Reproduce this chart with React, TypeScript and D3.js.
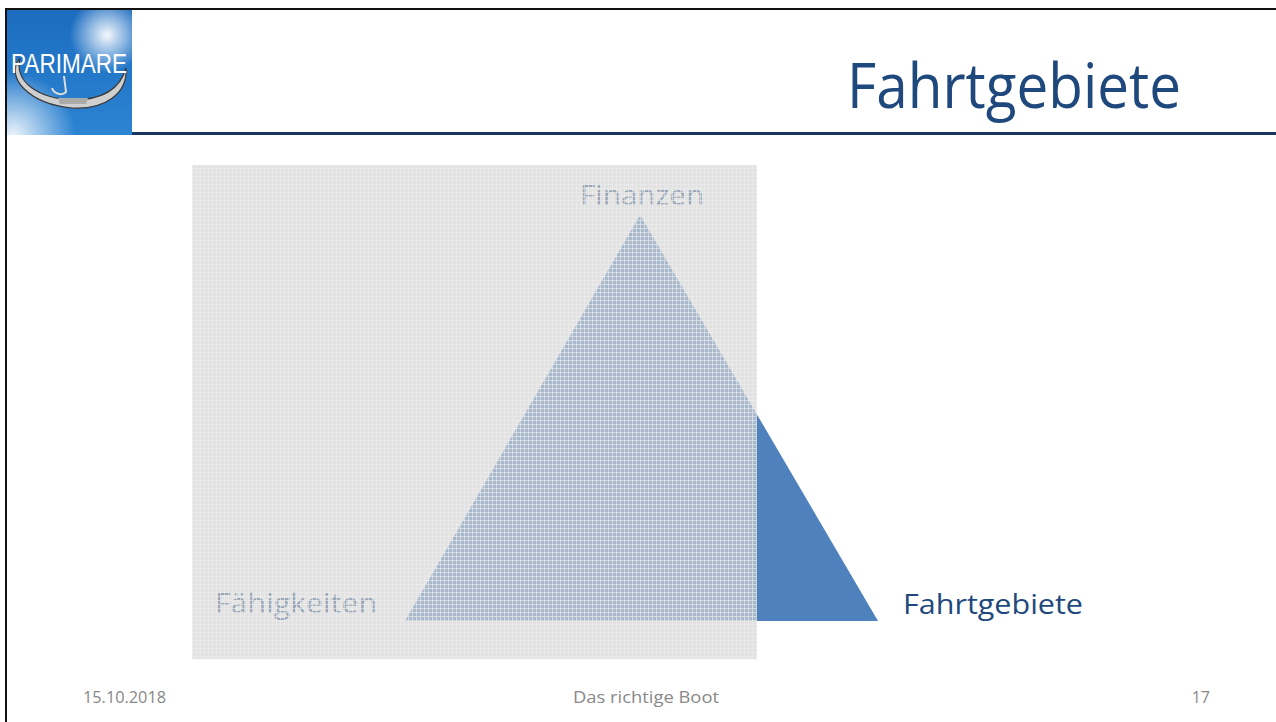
import React, { useEffect, useRef } from 'react';
import * as d3 from 'd3';

// slide texts
const slideTitle = 'Fahrtgebiete';
const footerDate = '15.10.2018';
const footerTitle = 'Das richtige Boot';
const pageNumber = '17';

// triangle corners in unit space (label, x, y)
const cornerLabels = ['Finanzen', 'Fähigkeiten', 'Fahrtgebiete'];
const cornerX = [0.497, 0, 1];
const cornerY = [1, 0, 0];

// the grey veil over the left part of the triangle
const veilX = [-0.45, 0.744];
const veilY = [-0.094, 1.123];

const W = 1276;
const H = 722;

function App() {
  const ref = useRef<SVGSVGElement>(null);

  useEffect(() => {
    document.body.style.margin = '0';
    const svg = d3.select(ref.current);
    svg.selectAll('*').remove();

    const x = d3.scaleLinear().domain([0, 1]).range([405, 878]);
    const y = d3.scaleLinear().domain([0, 1]).range([621, 215]);

    const defs = svg.append('defs');

    // logo gradients
    const lg = defs.append('linearGradient').attr('id', 'logoBg')
      .attr('x1', '0%').attr('y1', '0%').attr('x2', '0%').attr('y2', '100%');
    lg.append('stop').attr('offset', '0%').attr('stop-color', '#1c6cc0');
    lg.append('stop').attr('offset', '100%').attr('stop-color', '#2c84d2');
    const glow = defs.append('radialGradient').attr('id', 'logoGlow')
      .attr('cx', '0.8').attr('cy', '0.2').attr('r', '0.3');
    glow.append('stop').attr('offset', '0%').attr('stop-color', '#ffffff').attr('stop-opacity', 0.95);
    glow.append('stop').attr('offset', '100%').attr('stop-color', '#ffffff').attr('stop-opacity', 0);
    const glow2 = defs.append('radialGradient').attr('id', 'logoGlow2')
      .attr('cx', '0.05').attr('cy', '1').attr('r', '0.5');
    glow2.append('stop').attr('offset', '0%').attr('stop-color', '#ffffff').attr('stop-opacity', 0.9);
    glow2.append('stop').attr('offset', '100%').attr('stop-color', '#ffffff').attr('stop-opacity', 0);

    // grid pattern for the veil
    const pat = defs.append('pattern').attr('id', 'veil')
      .attr('patternUnits', 'userSpaceOnUse').attr('width', 4).attr('height', 4);
    pat.append('rect').attr('width', 4).attr('height', 4).attr('fill', 'rgb(212,212,212)').attr('fill-opacity', 0.68);
    pat.append('rect').attr('width', 4).attr('height', 1).attr('fill', 'rgb(236,236,236)').attr('fill-opacity', 0.6);
    pat.append('rect').attr('width', 1).attr('height', 4).attr('fill', 'rgb(236,236,236)').attr('fill-opacity', 0.6);

    svg.append('rect').attr('width', W).attr('height', H).attr('fill', '#ffffff');

    // slide frame
    svg.append('path').attr('d', `M6,${H} L6,9 L${W},9`)
      .attr('fill', 'none').attr('stroke', '#111').attr('stroke-width', 2);

    // logo
    const logo = svg.append('g');
    logo.append('rect').attr('x', 7).attr('y', 10).attr('width', 125).attr('height', 125).attr('fill', 'url(#logoBg)');
    logo.append('rect').attr('x', 7).attr('y', 10).attr('width', 125).attr('height', 125).attr('fill', 'url(#logoGlow)');
    logo.append('rect').attr('x', 7).attr('y', 10).attr('width', 125).attr('height', 125).attr('fill', 'url(#logoGlow2)');
    logo.append('path')
      .attr('d', 'M20,58 C4,78 30,104 72,108 C104,110 128,94 126,68 C120,90 100,100 72,100 C38,98 14,82 20,58 Z')
      .attr('fill', '#cfcfcf').attr('stroke', '#3a3a3a').attr('stroke-width', 1.2);
    logo.append('path').attr('d', 'M64,76 L66,92 C62,96 54,94 52,88').attr('fill', 'none').attr('stroke', '#ddd').attr('stroke-width', 2);
    logo.append('path').attr('d', 'M58,98 L88,98 L86,104 L60,104 Z').attr('fill', '#aaaaaa');
    logo.append('text').attr('x', 69).attr('y', 73).attr('text-anchor', 'middle')
      .attr('font-family', 'Liberation Sans Narrow, Liberation Sans, sans-serif').attr('font-size', 28)
      .attr('fill', '#ffffff').attr('textLength', 116).attr('lengthAdjust', 'spacingAndGlyphs')
      .text('PARIMARE');

    // title + rule
    svg.append('rect').attr('x', 132).attr('y', 132).attr('width', W - 132).attr('height', 3).attr('fill', '#17375e');
    svg.append('text').attr('x', 1181).attr('y', 108).attr('text-anchor', 'end')
      .attr('font-family', 'Open Sans, sans-serif').attr('font-size', 62)
      .attr('fill', '#1f497d').attr('textLength', 334).attr('lengthAdjust', 'spacingAndGlyphs')
      .text(slideTitle);

    // triangle
    const pts: [number, number][] = cornerX.map((cx, i) => [x(cx), y(cornerY[i])]);
    svg.append('path')
      .attr('d', d3.line()([pts[1], pts[0], pts[2]]) + 'Z')
      .attr('fill', '#4f81bd');

    // corner labels
    const labelPos = [
      { x: pts[0][0] + 2, y: pts[0][1] - 10, anchor: 'middle', len: 124 },
      { x: pts[1][0] - 28, y: pts[1][1] - 8, anchor: 'end', len: 162 },
      { x: pts[2][0] + 25, y: pts[2][1] - 7, anchor: 'start', len: 180 },
    ];
    cornerLabels.forEach((lab, i) => {
      svg.append('text')
        .attr('x', labelPos[i].x).attr('y', labelPos[i].y)
        .attr('text-anchor', labelPos[i].anchor)
        .attr('font-family', 'Open Sans, sans-serif').attr('font-size', 27)
        .attr('fill', '#1f497d').attr('textLength', labelPos[i].len).attr('lengthAdjust', 'spacingAndGlyphs')
        .text(lab);
    });

    // veil
    svg.append('rect')
      .attr('x', x(veilX[0])).attr('y', y(veilY[1]))
      .attr('width', x(veilX[1]) - x(veilX[0]))
      .attr('height', y(veilY[0]) - y(veilY[1]))
      .attr('fill', 'url(#veil)');

    // footer
    const foot = svg.append('g').attr('font-family', 'Open Sans, sans-serif').attr('font-size', 16).attr('fill', '#898989');
    foot.append('text').attr('x', 83).attr('y', 703).attr('textLength', 83).attr('lengthAdjust', 'spacingAndGlyphs').text(footerDate);
    foot.append('text').attr('x', 646).attr('y', 703).attr('text-anchor', 'middle').attr('textLength', 146).attr('lengthAdjust', 'spacingAndGlyphs').text(footerTitle);
    foot.append('text').attr('x', 1210).attr('y', 703).attr('text-anchor', 'end').text(pageNumber);
  }, []);

  return <svg ref={ref} width={W} height={H} style={{ display: 'block' }} />;
}

export default App;
